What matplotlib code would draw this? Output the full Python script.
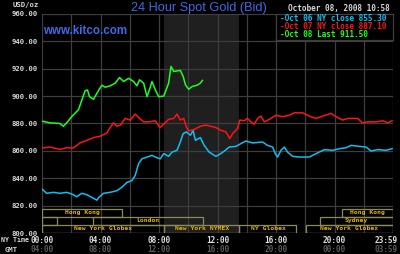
import matplotlib
matplotlib.use("Agg")
import matplotlib.pyplot as plt
from matplotlib.patches import Rectangle

# ---------------------------------------------------------------------------
# data (hours since 00:00 NY time, USD/oz)
# ---------------------------------------------------------------------------
oct08_h = [0.0, 0.55, 1.23, 1.46, 1.69, 2.03, 2.49, 2.72, 2.95, 3.11, 3.25, 3.52,
           3.75, 4.09, 4.32, 4.66, 5.01, 5.30, 5.58, 5.92, 6.26, 6.49, 6.67, 6.95,
           7.18, 7.36, 7.52, 7.75, 7.98, 8.32, 8.66, 8.82, 9.01, 9.46, 9.65, 9.81,
           10.03, 10.26, 10.61, 10.83, 10.97]
oct08_p = [881.7, 880.5, 880.0, 878.0, 880.5, 885.0, 890.0, 897.0, 904.0, 904.5, 899.6, 897.7,
           902.0, 908.0, 906.5, 907.5, 909.5, 913.6, 910.7, 913.0, 910.7, 907.5, 911.9, 909.5,
           899.6, 905.0, 910.7, 904.5, 899.6, 900.0, 909.5, 921.7, 918.0, 918.8, 914.4, 908.2,
           905.0, 907.0, 908.0, 909.5, 911.5]

oct07_h = [0.0, 0.55, 1.0, 1.23, 1.69, 2.14, 2.6, 3.06, 3.52, 3.98, 4.43, 4.66, 4.89,
           5.12, 5.35, 5.69, 6.03, 6.37, 6.67, 6.95, 7.29, 7.75, 8.05, 8.32, 8.66, 9.01,
           9.23, 9.46, 9.69, 9.87, 10.03, 10.37, 10.83, 11.20, 11.54, 11.89, 12.23, 12.57,
           12.84, 13.03, 13.37, 13.53, 13.83, 14.05, 14.28, 14.51, 14.74, 14.97, 15.20,
           15.54, 16.00, 16.45, 16.91, 17.25, 17.82, 18.28, 18.74, 19.19, 19.76, 20.11,
           20.56, 20.90, 21.59, 21.89, 22.27, 22.84, 23.30, 23.64, 23.94]
oct07_p = [862.1, 862.8, 861.6, 861.1, 862.3, 862.1, 865.8, 867.7, 869.7, 870.7, 873.1, 877.0, 880.5,
           878.0, 878.8, 883.7, 882.5, 886.9, 883.7, 881.2, 881.2, 882.0, 877.0, 879.5, 883.0, 883.7,
           886.9, 882.5, 883.7, 877.5, 874.6, 875.5, 878.0, 878.8, 878.0, 877.0, 875.0, 873.9,
           869.0, 872.6, 876.3, 882.5, 882.0, 883.7, 881.2, 879.5, 883.7, 885.4, 881.2,
           883.0, 886.0, 885.0, 886.0, 887.8, 887.8, 885.4, 883.7, 885.4, 887.4, 885.0,
           882.5, 883.7, 883.7, 880.5, 881.2, 881.2, 882.0, 880.5, 882.0]

oct06_h = [0.0, 0.32, 0.78, 1.23, 1.69, 2.03, 2.37, 2.72, 3.06, 3.41, 3.75, 3.93, 4.21,
           4.66, 5.12, 5.46, 5.81, 6.15, 6.37, 6.6, 6.83, 7.18, 7.52, 7.86, 8.09, 8.32,
           8.66, 8.89, 9.23, 9.46, 9.65, 9.87, 10.15, 10.33, 10.49, 10.83, 11.09, 11.43,
           11.89, 12.23, 12.53, 12.80, 13.26, 13.60, 13.94, 14.40, 15.08, 15.42, 15.77,
           15.95, 16.11, 16.34, 16.57, 16.79, 17.14, 17.59, 18.28, 18.74, 19.31, 19.88,
           20.33, 20.79, 21.13, 21.70, 22.16, 22.50, 22.96, 23.53, 23.94]
oct06_p = [832.1, 829.0, 829.7, 829.0, 829.7, 828.5, 826.5, 829.0, 828.0, 826.0, 824.0, 826.5, 829.0,
           829.7, 830.9, 833.4, 837.0, 838.3, 842.0, 850.6, 854.2, 855.5, 856.7, 855.0, 854.2, 858.0,
           856.0, 859.1, 860.4, 866.5, 872.6, 873.9, 871.4, 875.0, 867.7, 869.7, 864.0, 859.1,
           856.0, 858.0, 860.4, 862.8, 863.3, 865.3, 867.2, 865.8, 866.5, 864.0, 862.8,
           858.0, 855.5, 860.4, 862.8, 859.1, 856.0, 855.5, 855.5, 858.0, 860.9, 860.4,
           861.6, 862.3, 864.0, 863.3, 862.8, 859.9, 860.9, 860.4, 861.6]

legend_labels = ["Oct 06 NY close 855.30", "Oct 07 NY close 887.10", "Oct 08 Last 911.50"]

# trading sessions: row (0 = top), start hour, end hour, label
sessions_row = [0, 0, 1, 1, 1, 2, 2, 2, 2]
sessions_start = [0.0, 20.5, 0.0, 3.5, 19.0, 0.0, 8.33, 13.5, 18.05]
sessions_end = [5.5, 24.0, 1.0, 11.0, 24.0, 8.33, 13.5, 17.4, 24.0]
sessions_label = ["Hong Kong", "Hong Kong", "", "London", "Sydney",
                  "New York Globex", "New York NYMEX", "NY Globex", "New York Globex"]

ny_ticks = [0, 4, 8, 12, 16, 20, 24]
ny_labels = ["00:00", "04:00", "08:00", "12:00", "16:00", "20:00", "23:59"]
gmt_labels = ["04:00", "08:00", "12:00", "16:00", "20:00", "00:00", "03:59"]
y_ticks = [800, 820, 840, 860, 880, 900, 920, 940, 960]

# ---------------------------------------------------------------------------
BG = "black"
GRID = "#3e3e3e"
CYAN = "#10bff0"
RED = "#ff1414"
GREEN = "#1eff1e"
BLUE = "#4169e6"
GOLD = "#e6b400"
BOXEDGE = "#8a8a5c"
MONO = "DejaVu Sans Mono"

fig = plt.figure(figsize=(4.0, 2.54), dpi=100, facecolor=BG)
ax = fig.add_axes([42 / 400, 21 / 254, 351 / 400, 219 / 254], facecolor=BG)

ax.set_xlim(0, 24)
ax.set_ylim(800, 960)

# pit session shading
ax.axvspan(8.33, 13.5, color="#1f1f1f", zorder=0, lw=0)

# grid
for y in y_ticks:
    ax.axhline(y, color=GRID, lw=0.9, zorder=1)
for h in range(0, 25, 2):
    ax.axvline(h, color=GRID, lw=0.9, zorder=1)
for s in ax.spines.values():
    s.set_visible(False)

ax.plot(oct06_h, oct06_p, color=CYAN, lw=1.1, zorder=3)
ax.plot(oct07_h, oct07_p, color=RED, lw=1.1, zorder=3)
ax.plot(oct08_h, oct08_p, color=GREEN, lw=1.1, zorder=3)

# session bars in the 800-818 strip
row_top = [817.6, 811.8, 806.0]
row_h = 5.8
for r, a, b, lab in zip(sessions_row, sessions_start, sessions_end, sessions_label):
    y0 = row_top[r] - row_h
    ax.add_patch(Rectangle((a, y0), b - a, row_h, facecolor="none",
                           edgecolor=BOXEDGE, lw=0.9, zorder=4))
    if lab:
        ax.text((a + b) / 2, y0 + row_h / 2, lab, ha="center", va="center",
                fontsize=4.6, color=GOLD, family=MONO, fontweight="bold", zorder=5)

# y ticks
ax.set_yticks(y_ticks)
ax.set_yticklabels([f"{v:.2f}" for v in y_ticks], family=MONO, fontsize=5.2,
                   fontweight="bold", color="#d8d8d8")
ax.tick_params(axis="y", length=0, pad=3)
ax.set_xticks([])

# time rows (NY time and GMT), drawn as text under each 4-hour gridline
xform = ax.get_xaxis_transform()
for h, ny, g in zip(ny_ticks, ny_labels, gmt_labels):
    xh = min(h, 23.55)
    ax.text(xh, -7.5 / 219, ny, transform=xform, ha="center", va="center",
            fontsize=5.6, family=MONO, fontweight="bold", color="#e0e0e0", clip_on=False)
    ax.text(xh, -16.5 / 219, g, transform=xform, ha="center", va="center",
            fontsize=5.6, family=MONO, fontweight="bold", color="#5a5a5a", clip_on=False)

fig.text(1 / 400, 1 - 240.5 / 254, "NY Time", ha="left", va="center",
         fontsize=4.8, family=MONO, fontweight="bold", color="#d8d8d8")
fig.text(5 / 400, 1 - 249.5 / 254, "GMT", ha="left", va="center",
         fontsize=5.2, family=MONO, fontweight="bold", color="#d0d0d0")
fig.text(13 / 400, 1 - 5 / 254, "USD/oz", ha="left", va="center",
         fontsize=5.2, family=MONO, fontweight="bold", color="#d8d8d8")

# header
fig.text(199 / 400, 1 - 7.5 / 254, "24 Hour Spot Gold (Bid)", ha="center", va="center",
         fontsize=9.2, family="Liberation Sans", color=BLUE)
fig.text(43 / 400, 1 - 30.5 / 254, "www.kitco.com", ha="left", va="center",
         fontsize=8.3, family="Liberation Sans", fontweight="bold", color=BLUE)
fig.text(390 / 400, 1 - 9 / 254, "October 08, 2008 10:58", ha="right", va="center",
         fontsize=5.6, family=MONO, fontweight="bold", color="#d8d8d8")

# legend box
lax = fig.add_axes([276 / 400, 1 - 39.5 / 254, 117.5 / 400, 25.5 / 254], facecolor=BG)
lax.set_xticks([])
lax.set_yticks([])
for s in lax.spines.values():
    s.set_color(GRID)
    s.set_linewidth(0.9)
for i, (lab, c) in enumerate(zip(legend_labels, [CYAN, RED, GREEN])):
    lax.text(0.03, 0.83 - i * 0.31, "-" + lab, transform=lax.transAxes, ha="left",
             va="center", fontsize=5.6, family=MONO, fontweight="bold", color=c)

fig.savefig("out.png", dpi=100, facecolor=BG)
